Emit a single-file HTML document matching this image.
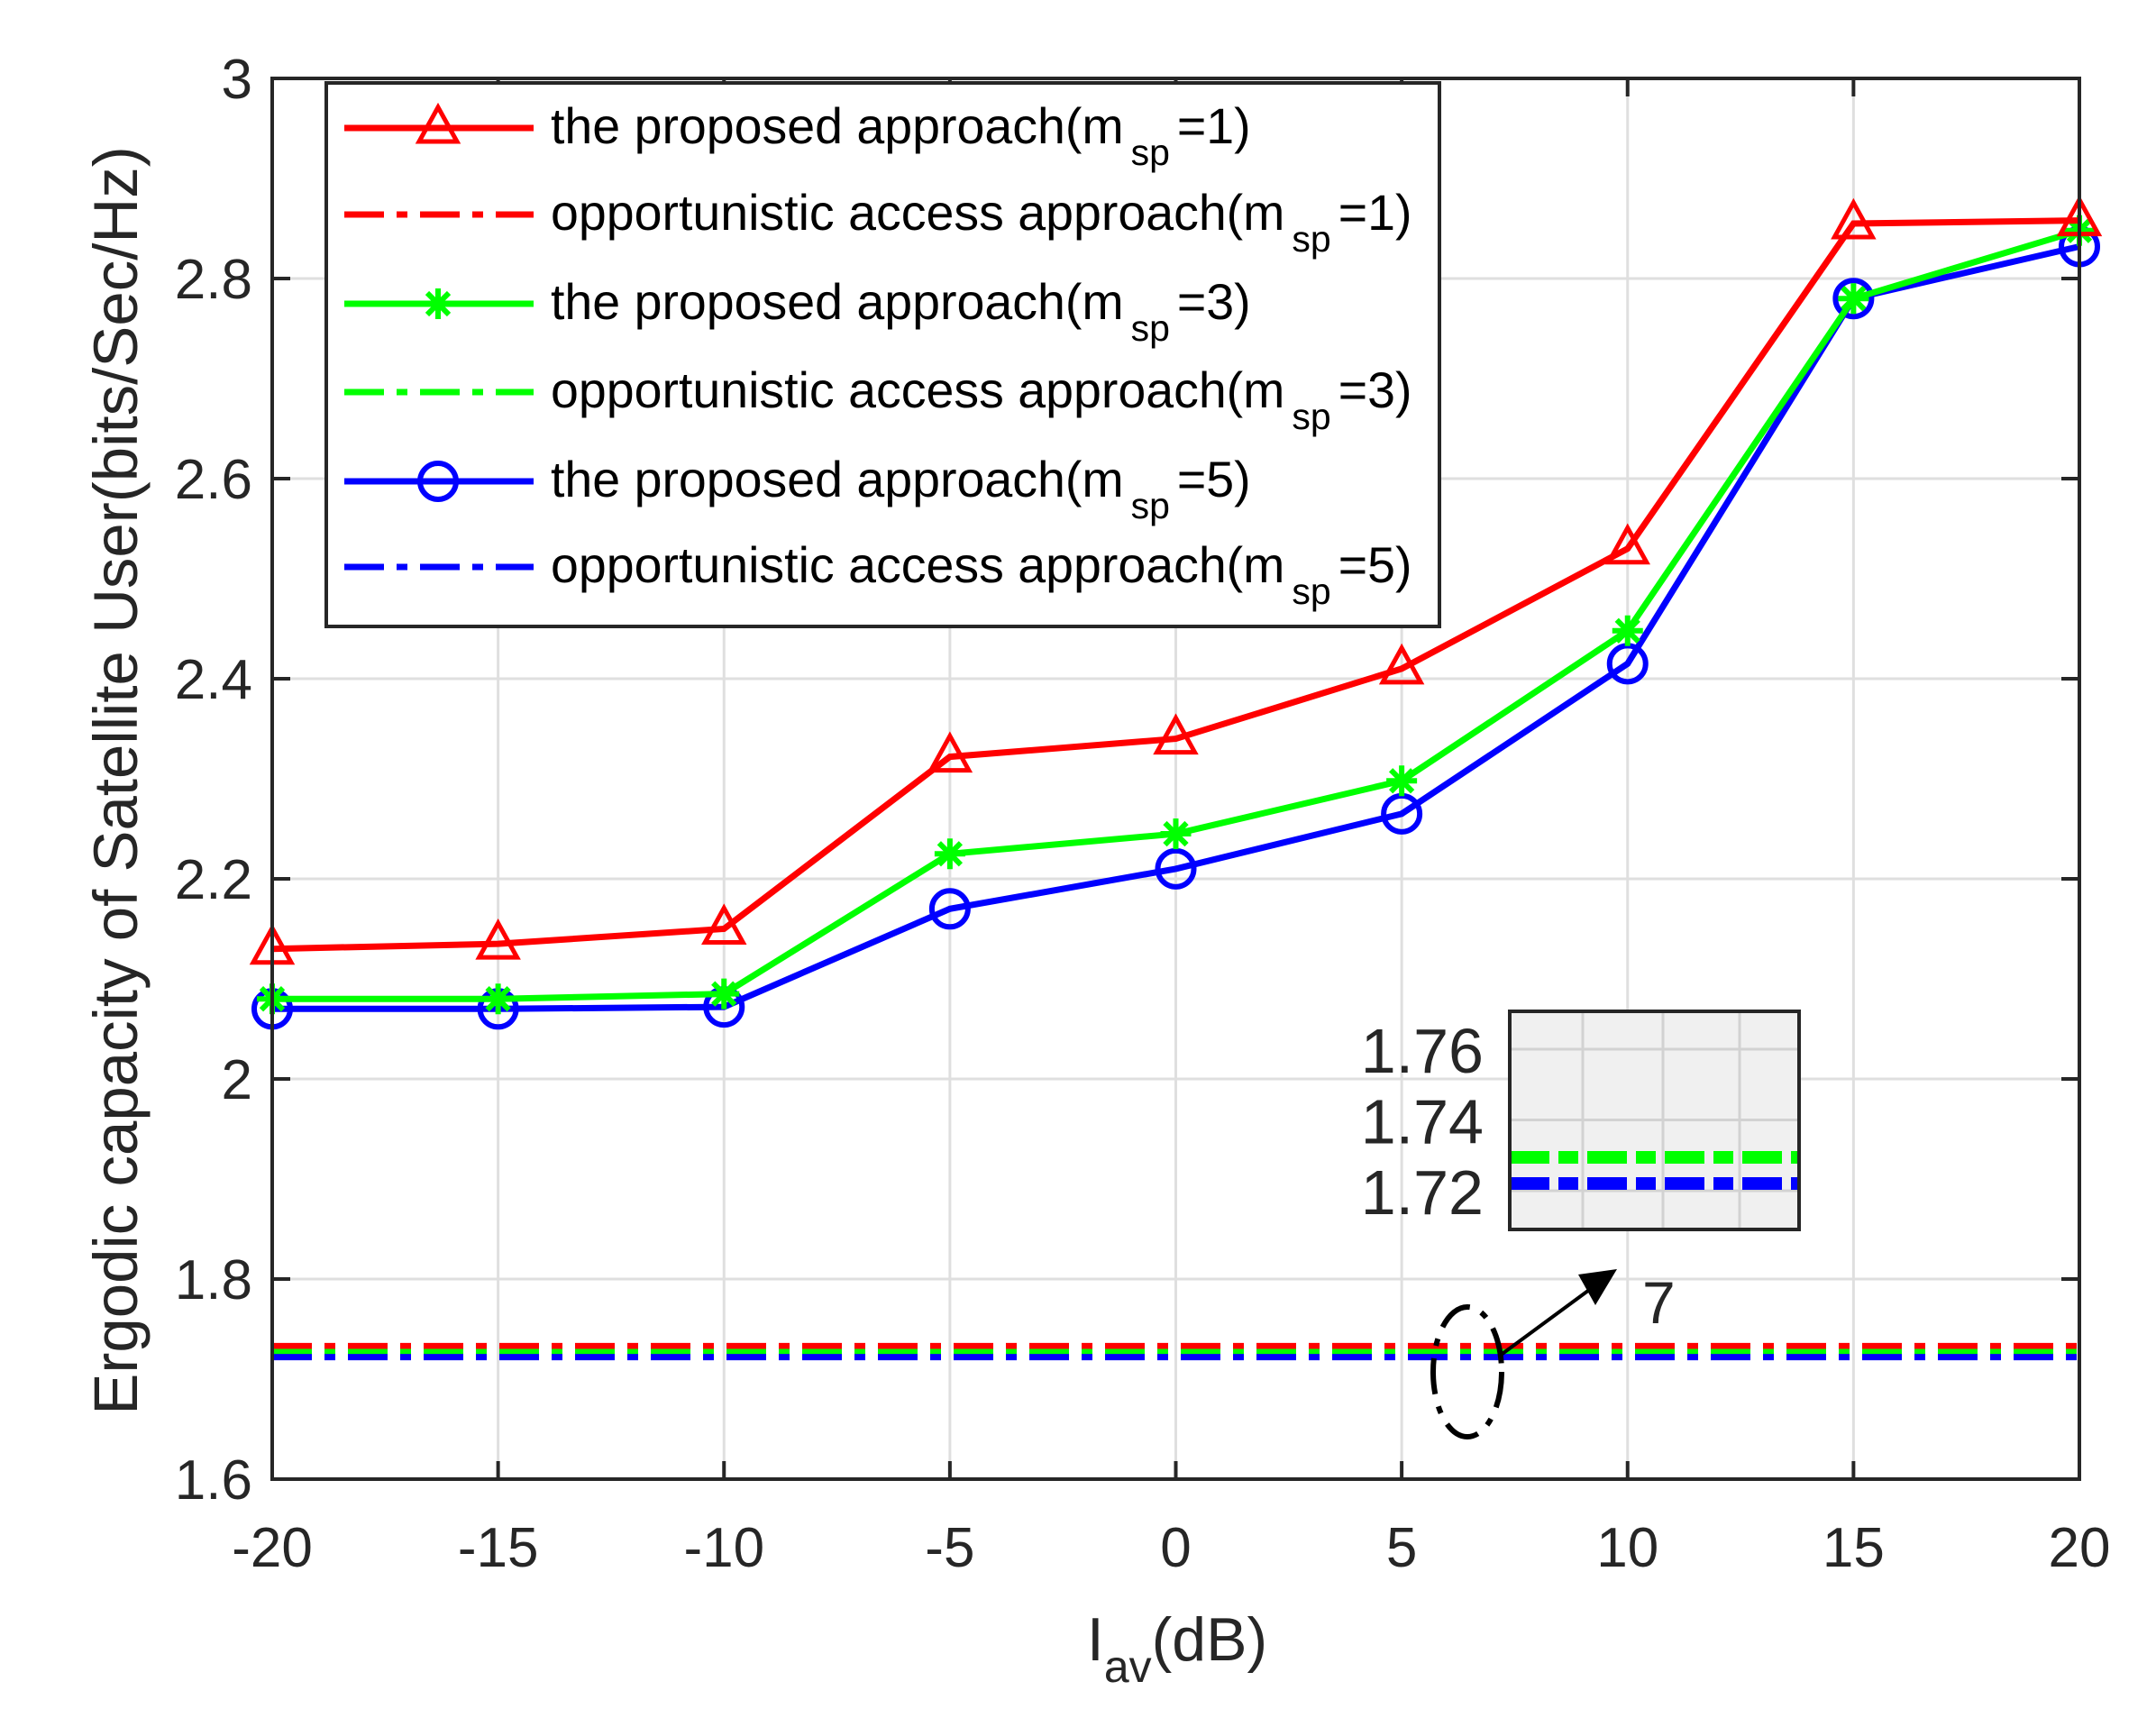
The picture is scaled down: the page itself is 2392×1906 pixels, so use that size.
<!DOCTYPE html>
<html><head><meta charset="utf-8"><style>
html,body{margin:0;padding:0;background:#fff;}
svg{display:block;font-family:"Liberation Sans",sans-serif;}
</style></head><body>
<svg id="chart" width="2392" height="1906" viewBox="0 0 2392 1906" xmlns="http://www.w3.org/2000/svg"></svg>
<script>
const xValues = [-20,-15,-10,-5,0,5,10,15,20];
const proposedM1 = [2.13,2.135,2.15,2.322,2.34,2.41,2.53,2.855,2.858];
const proposedM3 = [2.08,2.08,2.085,2.225,2.245,2.298,2.448,2.78,2.848];
const proposedM5 = [2.07,2.07,2.072,2.17,2.21,2.265,2.415,2.78,2.832];
const oppM1 = 1.733, oppM3 = 1.727, oppM5 = 1.722;
const xTicks = [-20,-15,-10,-5,0,5,10,15,20];
const yTicks = [1.6,1.8,2,2.2,2.4,2.6,2.8,3];
const yTickLabels = ["1.6","1.8","2","2.2","2.4","2.6","2.8","3"];
const insetTicks = [1.72,1.74,1.76];

const L=302,R=2307,T=87,B=1641;
const sx=v=>L+(v+20)/40*(R-L);
const sy=v=>B-(v-1.6)/1.4*(B-T);
const NS="http://www.w3.org/2000/svg";
const svg=document.getElementById('chart');
function el(tag,attrs,parent){const e=document.createElementNS(NS,tag);for(const k in attrs)e.setAttribute(k,attrs[k]);(parent||svg).appendChild(e);return e;}

xTicks.forEach(v=>{const g=el('line',{x1:sx(v),x2:sx(v),y1:T,y2:B,stroke:'#dfdfdf','stroke-width':3});

});
yTicks.forEach(v=>{const g=el('line',{x1:L,x2:R,y1:sy(v),y2:sy(v),stroke:'#dfdfdf','stroke-width':3});

});

const dd='44 14 12 14';
[[oppM1,'#ff0000','opp-line-m1'],[oppM3,'#00ff00','opp-line-m3'],[oppM5,'#0000ff','opp-line-m5']].forEach(([v,c,n])=>{
const l=el('line',{x1:L,x2:R,y1:sy(v),y2:sy(v),stroke:c,'stroke-width':7,'stroke-dasharray':dd});

});

function series(vals,color,name,marker){
const p=el('polyline',{points:vals.map((v,i)=>sx(xValues[i])+','+sy(v)).join(' '),fill:'none',stroke:color,'stroke-width':7});


vals.forEach((v,i)=>{const m=drawMarker(marker,sx(xValues[i]),sy(v),color);

});
}
function drawMarker(type,x,y,c,parent){
if(type==='tri') return el('polygon',{points:`${x},${y-23} ${x-21},${y+15} ${x+21},${y+15}`,fill:'none',stroke:c,'stroke-width':5},parent);
if(type==='circ') return el('circle',{cx:x,cy:y,r:20,fill:'none',stroke:c,'stroke-width':6},parent);
const g=el('g',{stroke:c,'stroke-width':6},parent);
for(let a=0;a<180;a+=45){const r=(a+90)*Math.PI/180,dx=17*Math.cos(r),dy=17*Math.sin(r);el('line',{x1:x-dx,y1:y-dy,x2:x+dx,y2:y+dy},g);}
return g;}
series(proposedM5,'#0000ff','proposed-m5','circ');
series(proposedM3,'#00ff00','proposed-m3','star');
series(proposedM1,'#ff0000','proposed-m1','tri');

const ax=el('rect',{x:L,y:T,width:R-L,height:B-T,fill:'none',stroke:'#262626','stroke-width':4});


xTicks.forEach(v=>{el('line',{x1:sx(v),x2:sx(v),y1:B,y2:B-20,stroke:'#262626','stroke-width':4});el('line',{x1:sx(v),x2:sx(v),y1:T,y2:T+20,stroke:'#262626','stroke-width':4});
const t=el('text',{x:sx(v),y:B+97,'font-size':62,'text-anchor':'middle',fill:'#262626'});t.textContent=v;

});
yTicks.forEach((v,i)=>{el('line',{x1:L,x2:L+20,y1:sy(v),y2:sy(v),stroke:'#262626','stroke-width':4});el('line',{x1:R,x2:R-20,y1:sy(v),y2:sy(v),stroke:'#262626','stroke-width':4});
const t=el('text',{x:L-22,y:sy(v)+22,'font-size':62,'text-anchor':'end',fill:'#262626'});t.textContent=yTickLabels[i];

});

const IL=1675,IR=1996,IT=1122,IB=1364;
const iy=v=>1321-(v-1.72)/0.02*78.5;
const ib=el('rect',{x:IL,y:IT,width:IR-IL,height:IB-IT,fill:'#f0f0f0',stroke:'none'});


[1756,1845,1930].forEach(x=>el('line',{x1:x,x2:x,y1:IT,y2:IB,stroke:'#d2d2d2','stroke-width':3}));
insetTicks.forEach(v=>{el('line',{x1:IL,x2:IR,y1:iy(v),y2:iy(v),stroke:'#d2d2d2','stroke-width':3});
const t=el('text',{x:1646,y:iy(v)+26,'font-size':70,'text-anchor':'end',fill:'#262626'});t.textContent=v.toFixed(2);

});
[[oppM3,'#00ff00','inset-opp-m3',1284],[oppM5,'#0000ff','inset-opp-m5',1313]].forEach(([v,c,n,yy])=>{
const l=el('line',{x1:IL,x2:IR,y1:yy,y2:yy,stroke:c,'stroke-width':14,'stroke-dasharray':'44 10 22 10'});

});
const ibx=el('rect',{x:IL,y:IT,width:IR-IL,height:IB-IT,fill:'none',stroke:'#262626','stroke-width':4});



const ell=el('ellipse',{cx:1628,cy:1522,rx:38,ry:72,fill:'none',stroke:'#000','stroke-width':6,'stroke-dasharray':'40 14 8 14'});


const ar=el('line',{x1:1664,y1:1504,x2:1770,y2:1426,stroke:'#000','stroke-width':4});


el('polygon',{points:'1794,1408 1751,1414 1770,1448',fill:'#000'});
const seven=el('text',{x:1822,y:1468,'font-size':66,fill:'#262626'});seven.textContent='7';



const lg=el('g',{});


el('rect',{x:362,y:92,width:1235,height:603,fill:'#fff',stroke:'#262626','stroke-width':4},lg);
const entries=[['the proposed approach(m','=1)','#ff0000','tri',false],['opportunistic access approach(m','=1)','#ff0000',null,true],
['the proposed approach(m','=3)','#00ff00','star',false],['opportunistic access approach(m','=3)','#00ff00',null,true],
['the proposed approach(m','=5)','#0000ff','circ',false],['opportunistic access approach(m','=5)','#0000ff',null,true]];
const rows=[142,238,337,435,534,629];
entries.forEach((e,i)=>{const y=rows[i];
const g=el('g',{},lg);


el('line',{x1:382,x2:592,y1:y,y2:y,stroke:e[2],'stroke-width':7,'stroke-dasharray':e[4]?'44 14 12 14':'none'},g);
if(e[3])drawMarker(e[3],486,y,e[2],g);
const t=el('text',{x:611,y:y+17,'font-size':55.5,fill:'#000'},g);
const a=document.createElementNS(NS,'tspan');a.textContent=e[0];t.appendChild(a);
const b=document.createElementNS(NS,'tspan');b.setAttribute('font-size','41');b.setAttribute('dy','24');b.setAttribute('dx','8');b.textContent='sp';t.appendChild(b);
const c=document.createElementNS(NS,'tspan');c.setAttribute('dy','-24');c.setAttribute('dx','8');c.textContent=e[1];t.appendChild(c);});

const xl=el('text',{x:1306,y:1842,'font-size':68,'text-anchor':'middle',fill:'#262626'});


xl.innerHTML='I<tspan font-size="50" dy="24">av</tspan><tspan dy="-24">(dB)</tspan>';
const yl=el('text',{x:0,y:0,'font-size':69,'text-anchor':'middle',fill:'#262626',transform:'translate(152,866) rotate(-90)'});


yl.textContent='Ergodic capacity of Satellite User(bits/Sec/Hz)';
</script>
</body></html>
